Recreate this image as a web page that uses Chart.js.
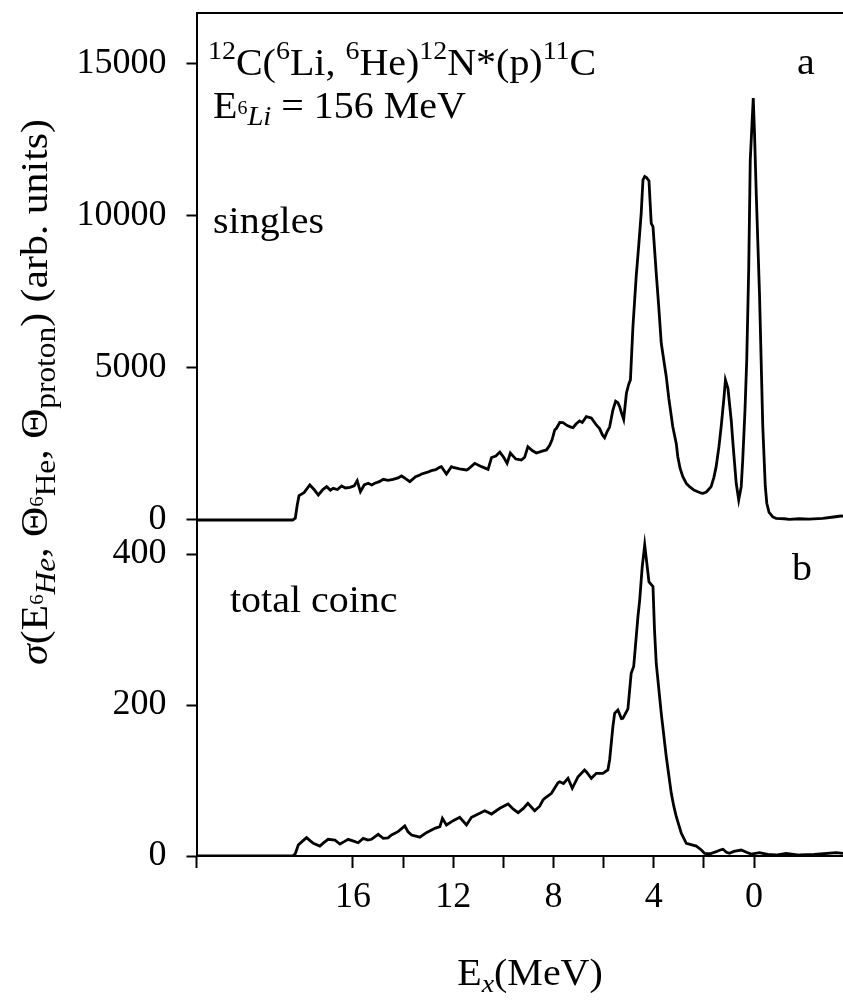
<!DOCTYPE html>
<html><head><meta charset="utf-8">
<script src="https://cdn.jsdelivr.net/npm/chart.js@4.4.1/dist/chart.umd.min.js"></script>
<style>html,body{margin:0;padding:0;background:#fff;}#wrap{width:843px;height:1002px;}</style>
</head><body><div id="wrap"><canvas id="c" width="843" height="1002"></canvas></div>
<script>
// Panel a: singles spectrum (E_x in MeV, counts in arb. units)
const singlesEx = [22.3,18.40,18.30,18.22,18.15,17.95,17.72,17.55,17.38,17.20,17.05,16.90,16.79,16.62,16.45,16.30,16.12,15.95,15.83,15.70,15.55,15.39,15.25,15.13,14.95,14.79,14.60,14.40,14.20,14.06,13.90,13.73,13.50,13.33,13.26,13.05,12.87,12.70,12.54,12.47,12.27,12.07,12.00,11.75,11.47,11.41,11.14,10.87,10.61,10.47,10.30,10.14,9.98,9.85,9.72,9.50,9.28,9.15,9.02,8.85,8.68,8.45,8.28,8.15,8.05,7.95,7.88,7.75,7.62,7.45,7.30,7.22,7.10,6.96,6.85,6.69,6.49,6.29,6.16,6.05,5.96,5.86,5.76,5.63,5.52,5.43,5.36,5.28,5.20,5.09,5.00,4.93,4.83,4.70,4.60,4.50,4.43,4.36,4.30,4.19,4.10,4.03,3.90,3.80,3.70,3.50,3.40,3.24,3.10,3.04,2.95,2.84,2.70,2.57,2.40,2.24,2.10,2.04,1.90,1.71,1.60,1.51,1.40,1.31,1.20,1.14,1.04,0.91,0.84,0.71,0.61,0.51,0.45,0.36,0.29,0.21,0.15,0.08,0.03,-0.02,-0.09,-0.22,-0.35,-0.45,-0.51,-0.60,-0.75,-0.88,-1.20,-1.41,-1.80,-2.20,-2.74,-3.10,-3.47,-3.70];
const singlesCounts = [0,0,60,500,800,900,1150,1000,820,1000,1094,980,1040,1000,1116,1050,1073,1120,1291,930,1150,1204,1150,1204,1260,1335,1300,1335,1380,1444,1360,1258,1420,1477,1510,1560,1619,1650,1729,1751,1510,1751,1729,1680,1641,1664,1860,1751,1664,2050,2100,2230,2050,1860,2200,2000,1970,2058,2406,2280,2200,2260,2300,2450,2650,2955,3010,3200,3195,3100,3050,3030,3150,3250,3200,3391,3350,3119,3000,2800,2700,2900,3050,3611,3900,3850,3720,3500,3300,4160,4450,4600,6346,7988,9000,10069,11162,11280,11250,11140,9740,9629,8099,7000,5801,4705,4000,3063,2500,2078,1700,1422,1200,1094,980,929,880,876,920,1094,1400,1751,2400,3063,4000,4596,4324,3283,2518,1204,657,1094,1970,3600,5253,8300,11800,13000,13850,12700,10700,7400,3060,1100,550,250,100,55,40,22,40,30,55,90,131,120];
// Panel b: total coincidences
const coincEx = [22.3,18.40,18.30,18.18,18.00,17.85,17.70,17.58,17.32,17.15,16.99,16.72,16.52,16.35,16.19,16.00,15.79,15.59,15.40,15.26,14.99,14.79,14.60,14.46,14.20,13.93,13.80,13.66,13.45,13.33,13.07,12.73,12.53,12.43,12.27,12.00,11.74,11.47,11.27,10.94,10.74,10.47,10.14,9.81,9.60,9.41,9.20,9.08,9.02,8.75,8.55,8.42,8.35,8.08,7.82,7.75,7.60,7.42,7.25,7.02,6.76,6.69,6.49,6.29,6.03,5.83,5.76,5.63,5.56,5.43,5.29,5.23,5.03,4.90,4.80,4.63,4.56,4.46,4.40,4.36,4.30,4.19,4.03,3.97,3.90,3.70,3.50,3.30,3.20,3.10,2.90,2.70,2.30,2.10,1.97,1.75,1.51,1.35,1.24,1.10,0.98,0.80,0.51,0.30,0.11,-0.22,-0.55,-0.88,-1.28,-1.81,-2.40,-3.28,-3.70];
const coincCounts = [0,0,3,14.6,20,24.3,20,16.8,13.2,18,22.1,21.2,15.9,19,22.1,20,17.6,23.4,21,22.1,28.7,23.4,24,27.8,32.2,39.7,32,27.8,26,25,30.9,36.6,38.9,49.9,41.1,46.8,51.2,41.1,51.2,56.5,60,55.6,63.2,68.9,62,57.4,63,67.5,69.8,60,66,74.2,76.4,83,97.1,98.4,96,102.9,89.7,105,114,111.7,102.9,109.5,109.5,114,127.2,171,189,193.4,182,182.4,195,242,251,317,339,383,400,412,395,363,357,300,255,189,131.5,83,66,52,30,16.8,13.2,8,3.5,3,5.7,8,8.9,5,3.5,6,7.9,5,2.6,4.4,2,1.3,3.5,1.3,2,4.4,3];
const xTickValues = [16,14,12,10,8,6,4,2,0];
const xTickLabels = [16,12,8,4,0];
const singlesTicks = [0,5000,10000,15000];
const coincTicks = [0,200,400];

const FAM = '"Liberation Serif", "Times New Roman", serif';
const fontStr = (p, size) => (p.it ? 'italic ' : '') + (size * (p.s || 1)).toFixed(1) + 'px ' + FAM;
function richWidth(ctx, parts, size) {
  let w = 0;
  for (const p of parts) { ctx.font = fontStr(p, size); w += ctx.measureText(p.t).width; }
  return w;
}
// draws text parts along the current baseline; k stretches horizontally (Computer-Modern-like width)
function drawRich(ctx, x, y, parts, size, k) {
  ctx.save();
  ctx.translate(x, y);
  ctx.scale(k || 1, 1);
  let cx = 0;
  for (const p of parts) {
    ctx.font = fontStr(p, size);
    ctx.fillText(p.t, cx, -(p.dy || 0) * size);
    cx += ctx.measureText(p.t).width;
  }
  ctx.restore();
}
const SUP = {s: .7, dy: .42};
const titleParts = [
  Object.assign({t:'12'}, SUP), {t:'C('}, Object.assign({t:'6'}, SUP), {t:'Li, '},
  Object.assign({t:'6'}, SUP), {t:'He)'}, Object.assign({t:'12'}, SUP), {t:'N*(p)'},
  Object.assign({t:'11'}, SUP), {t:'C'}
];
const energyParts = [{t:'E'}, {t:'6', s:.5, dy:.12}, {t:'Li', it:true, s:.72, dy:-.18}, {t:' = 156 MeV'}];
const yTitleParts = [
  {t:'σ', it:true}, {t:'(E'}, {t:'6', s:.5, dy:.1}, {t:'He', it:true, s:.75, dy:-.2},
  {t:', Θ'}, {t:'6', s:.5, dy:.1}, {t:'He', s:.75, dy:-.2},
  {t:', Θ'}, {t:'proton', s:.75, dy:-.2}, {t:') (arb. units)'}
];
const xTitleParts = [{t:'E'}, {t:'x', it:true, s:.7, dy:-.2}, {t:'(MeV)'}];

const textPlugin = {
  id: 'texts',
  afterDraw(chart) {
    const ctx = chart.ctx;
    ctx.save();
    ctx.fillStyle = '#000';
    ctx.textBaseline = 'alphabetic';
    ctx.textAlign = 'left';
    const K = 1.08;
    drawRich(ctx, 208, 75, titleParts, 37, K);
    drawRich(ctx, 213, 118, energyParts, 37, K);
    drawRich(ctx, 213, 233, [{t:'singles'}], 37, K);
    drawRich(ctx, 797, 74, [{t:'a'}], 37, K);
    drawRich(ctx, 230, 612, [{t:'total coinc'}], 37, K);
    drawRich(ctx, 792, 580, [{t:'b'}], 37, K);
    const wx = richWidth(ctx, xTitleParts, 37) * K;
    drawRich(ctx, 530 - wx / 2, 985, xTitleParts, 37, K);
    const KY = 1.1;
    const wy = richWidth(ctx, yTitleParts, 38) * KY;
    ctx.translate(47, 392 + wy / 2);
    ctx.rotate(-Math.PI / 2);
    drawRich(ctx, 0, 0, yTitleParts, 38, KY);
    ctx.restore();
  }
};

const tickFont = {family: FAM, size: 36};
const yScale = (ticks, min, max, weight) => ({
  type: 'linear', position: 'left', stack: 'panels', stackWeight: weight, min, max,
  afterBuildTicks: s => { s.ticks = ticks.map(v => ({value: v})); },
  afterFit: s => { s.width = 196.5; s.paddingTop = 0; s.paddingBottom = 0; },
  ticks: {color: '#000', font: tickFont, padding: 20, callback: v => String(v)},
  grid: {drawOnChartArea: false, tickLength: 10, tickWidth: 2, tickColor: '#000'},
  border: {color: '#000', width: 2}
});

new Chart(document.getElementById('c'), {
  type: 'line',
  data: {
    datasets: [
      {data: singlesEx.map((x, i) => ({x, y: singlesCounts[i]})), xAxisID: 'x', yAxisID: 'ya',
       borderColor: '#000', borderWidth: 2.8, pointRadius: 0, tension: 0, fill: false},
      {data: coincEx.map((x, i) => ({x, y: coincCounts[i]})), xAxisID: 'x', yAxisID: 'yb',
       borderColor: '#000', borderWidth: 2.8, pointRadius: 0, tension: 0, fill: false}
    ]
  },
  options: {
    responsive: false, animation: false, devicePixelRatio: 1,
    layout: {padding: {top: 13, left: 0, right: 0, bottom: 0}},
    plugins: {legend: {display: false}, tooltip: {enabled: false}},
    scales: {
      x: {
        type: 'linear', position: 'bottom', reverse: true, min: -3.55, max: 22.24,
        afterBuildTicks: s => { s.ticks = [{value: s.max}].concat(xTickValues.map(v => ({value: v}))); },
        afterFit: s => { s.height = 146; s.paddingLeft = 0; s.paddingRight = 0; },
        ticks: {color: '#000', font: tickFont, padding: 8, autoSkip: false, maxRotation: 0,
                callback: v => xTickLabels.includes(v) ? String(v) : ''},
        grid: {drawOnChartArea: false, tickLength: 12, tickWidth: 2, tickColor: '#000'},
        border: {color: '#000', width: 2}
      },
      xTop: {
        type: 'linear', position: 'top', reverse: true, min: -3.55, max: 22.24,
        ticks: {display: false}, grid: {display: false},
        afterFit: s => { s.height = 0; s.paddingLeft = 0; s.paddingRight = 0; },
        border: {color: '#000', width: 2}
      },
      yb: yScale(coincTicks, 0, 435, 328.4),
      ya: yScale(singlesTicks, -250, 16645, 514.6)
    }
  },
  plugins: [textPlugin]
});
</script></body></html>
